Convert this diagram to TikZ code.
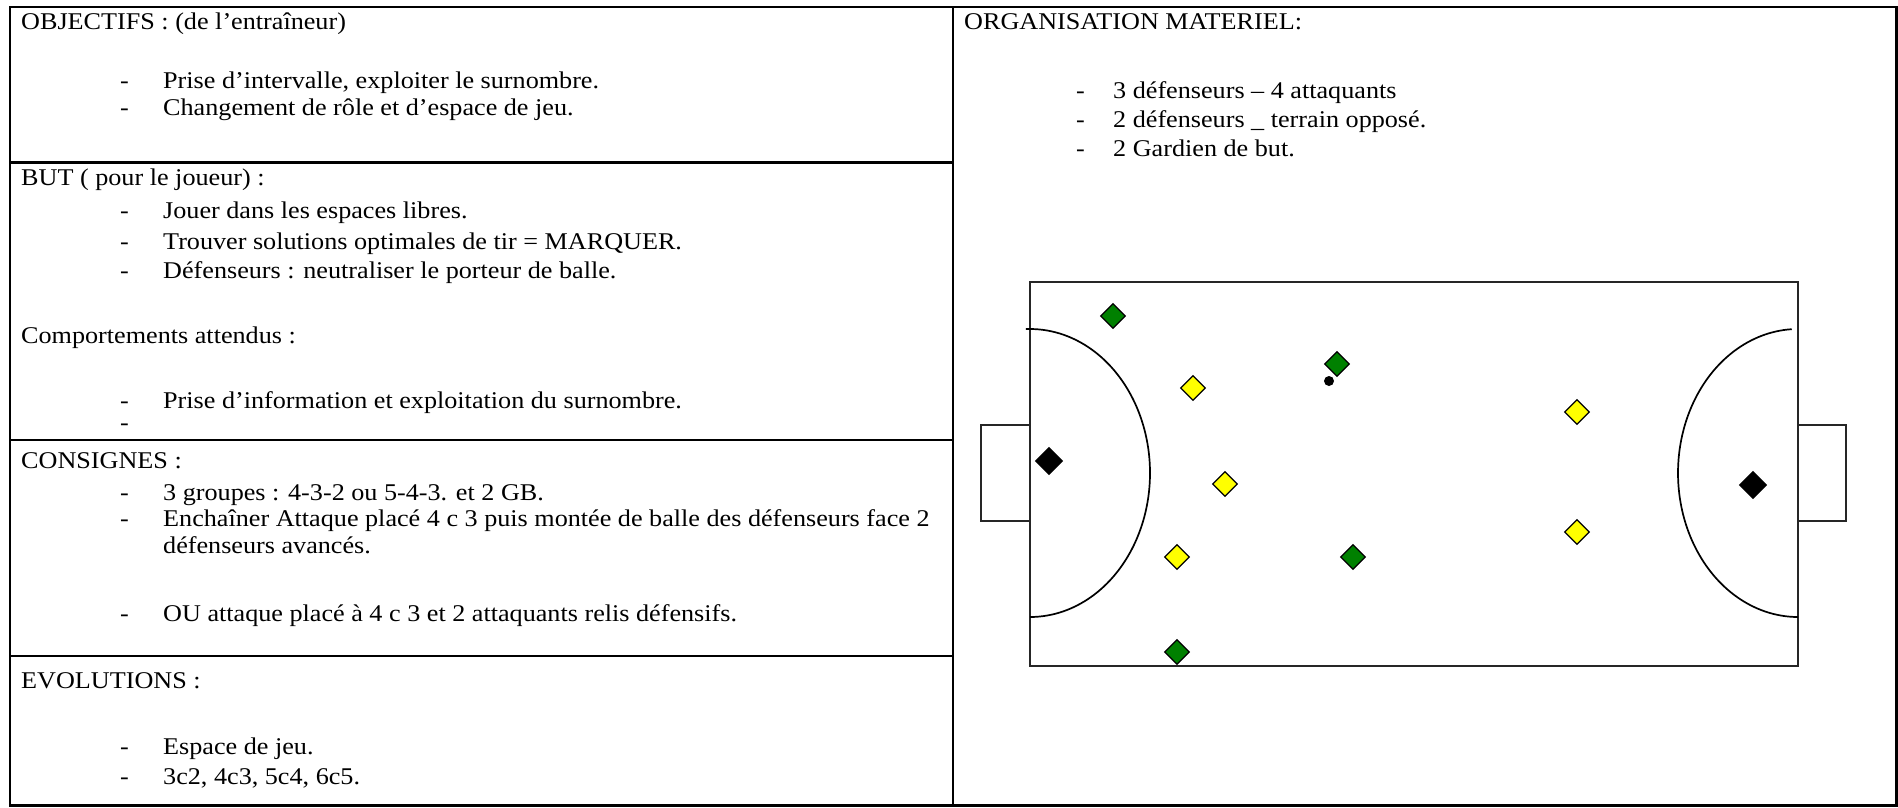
\documentclass[tikz,border=0pt]{standalone}
\usepackage{fontspec}
\setmainfont{Liberation Serif}[FakeStretch=1.09]
\usetikzlibrary{shapes.geometric}
\definecolor{pgreen}{RGB}{0,128,0}
\definecolor{pyellow}{RGB}{255,255,0}
\begin{document}
\begin{tikzpicture}[x=1pt,y=-1pt,
  txt/.style={anchor=base west, inner sep=0pt, font=\fontsize{24}{28}\selectfont},
  frameline/.style={line width=2.8pt},
  pitch/.style={line width=2pt, draw=black!85},
  goalbox/.style={line width=1.6pt, draw=black!85},
  dline/.style={line width=1.7pt},
  player/.style={diamond, draw=black, line width=1.3pt, inner sep=0pt, minimum width=25pt, minimum height=25pt},
  gk/.style={player, fill=black, minimum width=27pt, minimum height=27pt}]
\useasboundingbox (0,0) rectangle (1898,807);
% table frame
\draw[frameline] (10,7) rectangle (1896.5,805.5);
\draw[frameline] (953,7) -- (953,805.5);
\draw[frameline] (10,162.7) -- (953,162.7);
\draw[frameline] (10,440) -- (953,440);
\draw[frameline] (10,656) -- (953,656);
% left column texts
\node[txt] (obj) at (21,29) {OBJECTIFS : (de l’entraîneur)};
\node[txt] (d1) at (120,88) {-};
\node[txt] (o1) at (163,88) {Prise d’intervalle, exploiter le surnombre.};
\node[txt] (d2) at (120,115) {-};
\node[txt] (o2) at (163,115) {Changement de rôle et d’espace de jeu.};
\node[txt] (but) at (21,185) {BUT ( pour le joueur) :};
\node[txt] (d3) at (120,218.5) {-};
\node[txt] (b1) at (163,218.5) {Jouer dans les espaces libres.};
\node[txt] (d4) at (120,249) {-};
\node[txt] (b2) at (163,249) {Trouver solutions optimales de tir = MARQUER.};
\node[txt] (d5) at (120,278.5) {-};
\node[txt] (b3) at (163,278.5) {Défenseurs : neutraliser le porteur de balle.};
\node[txt] (comp) at (21,343.5) {Comportements attendus :};
\node[txt] (d6) at (120,408) {-};
\node[txt] (c1) at (163,408) {Prise d’information et exploitation du surnombre.};
\node[txt] (d7) at (120,430) {-};
\node[txt] (cons) at (21,468.5) {CONSIGNES :};
\node[txt] (d8) at (120,500.5) {-};
\node[txt] (s1) at (163,500.5) {3 groupes : 4-3-2 ou 5-4-3. et 2 GB.};
\node[txt] (d9) at (120,526) {-};
\node[txt] (s2) at (163,526) {Enchaîner Attaque placé 4 c 3 puis montée de balle des défenseurs face 2};
\node[txt] (s3) at (163,553) {défenseurs avancés.};
\node[txt] (d10) at (120,621.5) {-};
\node[txt] (s4) at (163,621.5) {OU attaque placé à 4 c 3 et 2 attaquants relis défensifs.};
\node[txt] (evo) at (21,688.5) {EVOLUTIONS :};
\node[txt] (d11) at (120,754.5) {-};
\node[txt] (e1) at (163,754.5) {Espace de jeu.};
\node[txt] (d12) at (120,784.5) {-};
\node[txt] (e2) at (163,784.5) {3c2, 4c3, 5c4, 6c5.};
% right column texts
\node[txt] (org) at (964,29) {ORGANISATION MATERIEL:};
\node[txt] (r1d) at (1076,98) {-};
\node[txt] (r1) at (1113,98) {3 défenseurs – 4 attaquants};
\node[txt] (r2d) at (1076,127) {-};
\node[txt] (r2) at (1113,127) {2 défenseurs \_ terrain opposé.};
\node[txt] (r3d) at (1076,156) {-};
\node[txt] (r3) at (1113,156) {2 Gardien de but.};
% pitch
\draw[pitch] (1030,282) rectangle (1798,666);
\draw[goalbox] (1030,425) -- (981,425) -- (981,521) -- (1030,521);
\draw[goalbox] (1798,425) -- (1846,425) -- (1846,521) -- (1798,521);
\draw[dline] plot[domain=-92:90, samples=90, smooth] ({1030+120*cos(\x)},{473+144*sin(\x)});
\draw[dline] plot[domain=-270:-93, samples=90, smooth] ({1798+120*cos(\x)},{473+144*sin(\x)});
% players
\node[player, fill=pgreen] (g1) at (1113,316) {};
\node[player, fill=pgreen] (g2) at (1337,364) {};
\node[player, fill=pgreen] (g3) at (1353,557) {};
\node[player, fill=pgreen] (g4) at (1177,652) {};
\node[player, fill=pyellow] (y1) at (1193,388) {};
\node[player, fill=pyellow] (y2) at (1225,484) {};
\node[player, fill=pyellow] (y3) at (1177,557) {};
\node[player, fill=pyellow] (y4) at (1577,412) {};
\node[player, fill=pyellow] (y5) at (1577,532) {};
\node[gk] (k1) at (1049,461) {};
\node[gk] (k2) at (1753,485) {};
\node[circle, fill=black, inner sep=0pt, minimum size=10pt] (ball) at (1329,381) {};
\end{tikzpicture}
\end{document}
